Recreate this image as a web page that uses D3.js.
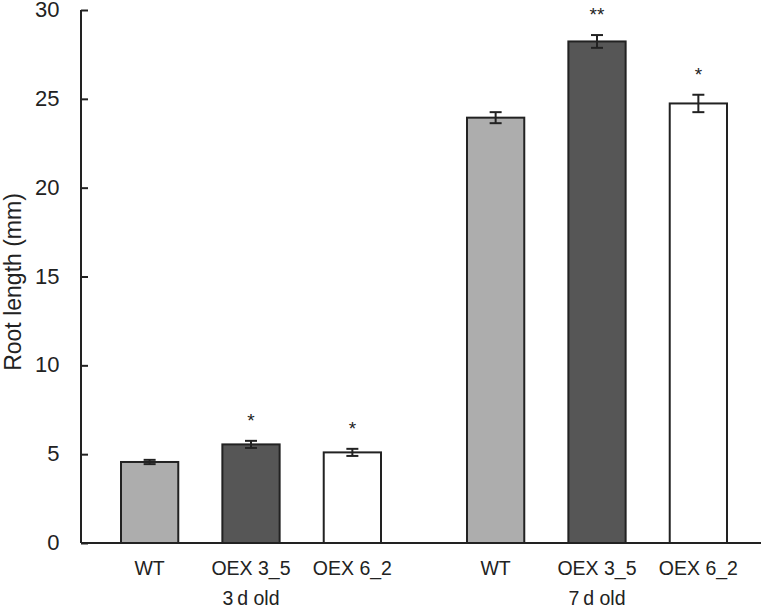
<!DOCTYPE html>
<html>
<head>
<meta charset="utf-8">
<script src="https://cdn.jsdelivr.net/npm/d3@7"></script>
<style>
  html, body { margin: 0; padding: 0; background: #fff; }
  svg { display: block; font-family: "Liberation Sans", Arial, Helvetica, sans-serif; }
</style>
</head>
<body>
<svg id="chart" width="761" height="609"></svg>
<script>
// Data
const groups = ["3\u2009d old", "7\u2009d old"];
const genotypes = ["WT", "OEX 3_5", "OEX 6_2"];
const values3d = [4.56, 5.55, 5.1];
const values7d = [23.94, 28.23, 24.74];
const errors3d = [0.12, 0.2, 0.2];
const errors7d = [0.31, 0.36, 0.49];
const stars3d = ["", "*", "*"];
const stars7d = ["", "**", "*"];
const yTicks = [0, 5, 10, 15, 20, 25, 30];
const colors = ["#adadad", "#565656", "#ffffff"];

const seriesByGroup = [
  { values: values3d, errors: errors3d, stars: stars3d },
  { values: values7d, errors: errors7d, stars: stars7d }
];

const svg = d3.select("#chart");
const mLeft = 81, mTop = 10, mBottom = 543, rightEdge = 761;

const y = d3.scaleLinear().domain([0, 30]).range([mBottom, mTop]);
const x0 = d3.scaleBand().domain(groups).range([78, 770]).padding(0);
const x1 = d3.scaleBand().domain(genotypes).range([43, 303]).paddingInner(0.435).paddingOuter(0);

const data = [];
groups.forEach((g, gi) => {
  genotypes.forEach((k, ki) => {
    data.push({
      group: g, geno: k, gi, ki,
      value: seriesByGroup[gi].values[ki],
      err: seriesByGroup[gi].errors[ki],
      star: seriesByGroup[gi].stars[ki]
    });
  });
});

// Bars
svg.append("g").selectAll("rect").data(data).join("rect")
  .attr("x", d => x0(d.group) + x1(d.geno))
  .attr("y", d => y(d.value))
  .attr("width", x1.bandwidth())
  .attr("height", d => y(0) - y(d.value))
  .attr("fill", d => colors[d.ki])
  .attr("stroke", "#222")
  .attr("stroke-width", 2);

// Error bars
const eb = svg.append("g").attr("stroke", "#222").attr("stroke-width", 2);
data.forEach(d => {
  const cx = x0(d.group) + x1(d.geno) + x1.bandwidth() / 2;
  const y1 = y(d.value + d.err), y2 = y(d.value - d.err);
  eb.append("line").attr("x1", cx).attr("x2", cx).attr("y1", y1).attr("y2", y2);
  eb.append("line").attr("x1", cx - 6).attr("x2", cx + 6).attr("y1", y1).attr("y2", y1);
  eb.append("line").attr("x1", cx - 6).attr("x2", cx + 6).attr("y1", y2).attr("y2", y2);
});

// Significance stars
svg.append("g").selectAll("text").data(data.filter(d => d.star)).join("text")
  .attr("x", d => x0(d.group) + x1(d.geno) + x1.bandwidth() / 2)
  .attr("y", d => y(d.value + d.err) - 14)
  .attr("text-anchor", "middle")
  .attr("font-size", 19)
  .attr("fill", "#222")
  .text(d => d.star);

// Y axis
const yAxis = d3.axisLeft(y).tickValues(yTicks).tickSize(-7).tickPadding(21.5).tickSizeOuter(0);
const gy = svg.append("g").attr("transform", `translate(${mLeft},0)`).call(yAxis);
gy.select(".domain").remove();
gy.selectAll(".tick line").attr("stroke", "#222").attr("stroke-width", 2);
gy.selectAll(".tick text").attr("font-size", 22).attr("fill", "#222").attr("dy", "0.3em")
  .attr("font-family", "'Liberation Sans', Arial, sans-serif");
svg.append("line").attr("x1", mLeft).attr("x2", mLeft).attr("y1", y(30)).attr("y2", y(0))
  .attr("stroke", "#222").attr("stroke-width", 2);

// X axis line
svg.append("line").attr("x1", mLeft).attr("x2", rightEdge).attr("y1", y(0)).attr("y2", y(0))
  .attr("stroke", "#222").attr("stroke-width", 2);

// Genotype labels
svg.append("g").selectAll("text").data(data).join("text")
  .attr("x", d => x0(d.group) + x1(d.geno) + x1.bandwidth() / 2)
  .attr("y", 575)
  .attr("text-anchor", "middle")
  .attr("font-size", 19.5)
  .attr("fill", "#222")
  .text(d => d.geno);

// Group labels
svg.append("g").selectAll("text").data(groups).join("text")
  .attr("x", d => x0(d) + x0.bandwidth() / 2)
  .attr("y", 605)
  .attr("text-anchor", "middle")
  .attr("font-size", 19.5)
  .attr("fill", "#222")
  .text(d => d);

// Y title
svg.append("text")
  .attr("transform", "translate(21,282) rotate(-90)")
  .attr("text-anchor", "middle")
  .attr("font-size", 23)
  .attr("fill", "#222")
  .text("Root length (mm)");
</script>
</body>
</html>
